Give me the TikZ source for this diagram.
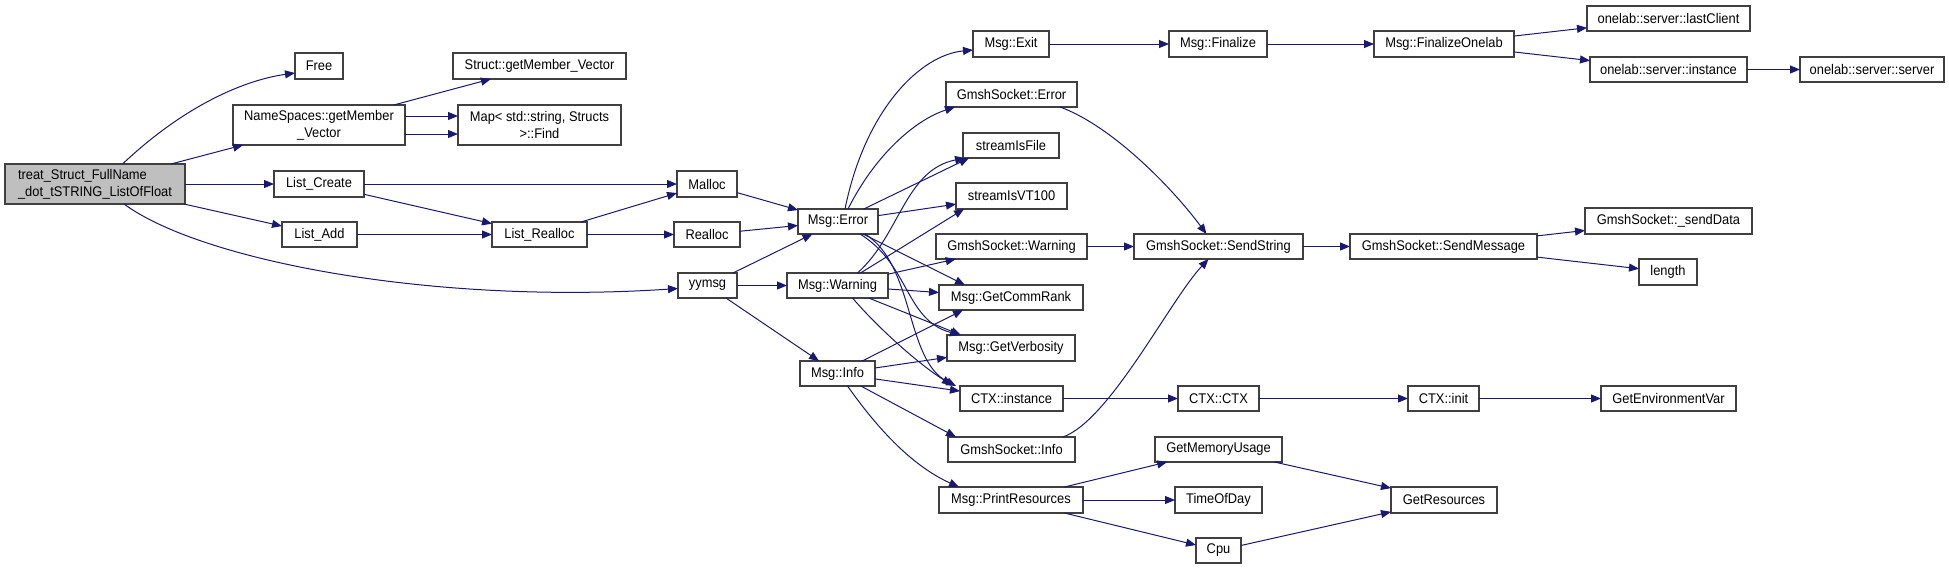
\documentclass[tikz,border=0pt]{standalone}
\usepackage{fontspec}
\setmainfont{Liberation Sans}[FakeStretch=0.92]
\usetikzlibrary{arrows.meta}
\definecolor{dxblue}{HTML}{191970}
\definecolor{dxborder}{HTML}{404040}
\definecolor{dxgray}{HTML}{BFBFBF}
\tikzset{
  gbox/.style={draw=dxborder, line width=0.8pt, fill=white, inner sep=0pt, outer sep=0pt,
    font=\fontsize{10.5}{12.5}\selectfont, text=black},
  call/.style={draw=dxblue, line width=0.75pt, -{Triangle[length=7.5pt,width=6pt]}},
}
\newcommand\gnode[7][]{%
  \node[gbox,#1,minimum width={(#5-#3)*0.75pt},minimum height={(#6-#4)*0.75pt}]
    (#2) at ({(#3+#5)/2},{(#4+#6)/2}) {#7};}
\begin{document}
\begin{tikzpicture}[x=0.75pt,y=-0.75pt]
\useasboundingbox (0,0) rectangle (1949,569);
% nodes
\gnode[fill=dxgray,align=left]{treat}{5}{164}{185}{204}{treat\_Struct\_FullName\\\_dot\_tSTRING\_ListOfFloat}
\gnode{Free}{295}{53}{343}{79}{Free}
\gnode[align=center]{NS}{233}{105}{405}{145}{NameSpaces::getMember\\\_Vector}
\gnode{Struct}{453}{53}{626}{79}{Struct::getMember\_Vector}
\gnode[align=center]{Map}{458}{105}{621}{145}{Map< std::string, Structs\\>::Find}
\gnode{LC}{274}{171}{364}{197}{List\_Create}
\gnode{LA}{282}{222}{357}{247}{List\_Add}
\gnode{LR}{492}{222}{587}{247}{List\_Realloc}
\gnode{Malloc}{677}{171}{737}{197}{Malloc}
\gnode{Realloc}{674}{222}{740}{247}{Realloc}
\gnode{yymsg}{678}{273}{737}{298}{yymsg}
\gnode{Err}{798}{209}{878}{234}{Msg::Error}
\gnode{Warn}{787}{273}{888}{298}{Msg::Warning}
\gnode{Info}{800}{361}{875}{386}{Msg::Info}
\gnode{Exit}{973}{31}{1049}{57}{Msg::Exit}
\gnode{GE}{946}{82}{1077}{107}{GmshSocket::Error}
\gnode{sIF}{963}{133}{1059}{158}{streamIsFile}
\gnode{VT}{956}{183}{1067}{209}{streamIsVT100}
\gnode{GW}{936}{234}{1087}{259}{GmshSocket::Warning}
\gnode{GCR}{939}{285}{1083}{310}{Msg::GetCommRank}
\gnode{GV}{947}{335}{1075}{361}{Msg::GetVerbosity}
\gnode{CTXi}{960}{386}{1063}{411}{CTX::instance}
\gnode{GSI}{948}{437}{1075}{462}{GmshSocket::Info}
\gnode{PR}{939}{487}{1083}{513}{Msg::PrintResources}
\gnode{Fin}{1169}{31}{1267}{57}{Msg::Finalize}
\gnode{SS}{1134}{234}{1303}{259}{GmshSocket::SendString}
\gnode{CTXc}{1178}{386}{1259}{411}{CTX::CTX}
\gnode{GMU}{1155}{437}{1282}{462}{GetMemoryUsage}
\gnode{TOD}{1175}{487}{1262}{513}{TimeOfDay}
\gnode{Cpu}{1196}{538}{1241}{563}{Cpu}
\gnode{FO}{1374}{31}{1514}{57}{Msg::FinalizeOnelab}
\gnode{SM}{1350}{234}{1537}{259}{GmshSocket::SendMessage}
\gnode{CTXinit}{1408}{386}{1479}{411}{CTX::init}
\gnode{GR}{1391}{487}{1497}{513}{GetResources}
\gnode{lastC}{1587}{6}{1750}{31}{onelab::server::lastClient}
\gnode{oinst}{1590}{57}{1747}{82}{onelab::server::instance}
\gnode{oserv}{1800}{57}{1944}{82}{onelab::server::server}
\gnode{sendD}{1585}{208}{1752}{234}{GmshSocket::\_sendData}
\gnode{len}{1639}{259}{1697}{285}{length}
\gnode{GEV}{1601}{386}{1736}{411}{GetEnvironmentVar}
% edges from treat
\draw[call] (treat.36) .. controls (185,105) and (245,80) .. ([shift={(0,7)}]Free.west);
\draw[call] (treat) -- (NS);
\draw[call] (NS) -- (Struct);
\draw[call] ([shift={(0,-9)}]NS.east) -- ([shift={(0,-9)}]Map.west);
\draw[call] ([shift={(0,9)}]NS.east) -- ([shift={(0,9)}]Map.west);
\draw[call] (treat) -- (LC);
\draw[call] (treat) -- (LA);
\draw[call] ([shift={(29,0)}]treat.south) .. controls (200,260) and (430,305) .. ([shift={(0,3)}]yymsg.west);
\draw[call] (LC) -- (Malloc);
\draw[call] (LC) -- (LR);
\draw[call] (LA) -- (LR);
\draw[call] (LR) -- (Malloc);
\draw[call] (LR) -- (Realloc);
\draw[call] (Malloc) -- (Err);
\draw[call] (Realloc) -- (Err);
\draw[call] (yymsg) -- (Err);
\draw[call] (yymsg) -- (Warn);
\draw[call] (yymsg) -- (Info);
% Msg::Error
\draw[call] ([shift={(7,0)}]Err.north) .. controls (865,110) and (920,55) .. ([shift={(0,6)}]Exit.west);
\draw[call] ([shift={(10,0)}]Err.north) .. controls (875,155) and (915,120) .. ([shift={(9,0)}]GE.south west);
\draw[call] (Err) -- ([shift={(6,0)}]sIF.south west);
\draw[call] (Err) -- (VT);
\draw[call] (Err) -- ([shift={(26,0)}]GCR.north west);
\draw[call] ([shift={(22,0)}]Err.south) .. controls (910,265) and (905,320) .. ([shift={(13,0)}]GV.north west);
\draw[call] ([shift={(27,0)}]Err.south) .. controls (915,265) and (905,360) .. ([shift={(-4,0)}]CTXi.north west);
% Msg::Warning
\draw[call] ([shift={(20,0)}]Warn.north) .. controls (900,235) and (905,170) .. ([shift={(2,0)}]sIF.south west);
\draw[call] ([shift={(23,0)}]Warn.north) -- ([shift={(8,0)}]VT.south west);
\draw[call] (Warn) -- (GW);
\draw[call] (Warn) -- (GCR);
\draw[call] (Warn) -- ([shift={(14,0)}]GV.north west);
\draw[call] ([shift={(15,0)}]Warn.south) .. controls (880,330) and (920,365) .. ([shift={(-8,-1)}]CTXi.north west);
% Msg::Info
\draw[call] (Info) -- ([shift={(24,0)}]GCR.south west);
\draw[call] (Info) -- (GV);
\draw[call] (Info) -- (CTXi);
\draw[call] (Info) -- ([shift={(8,0)}]GSI.north west);
\draw[call] ([shift={(10,0)}]Info.south) .. controls (875,425) and (910,465) .. ([shift={(20,0)}]PR.north west);
% right side
\draw[call] (Exit) -- (Fin);
\draw[call] (Fin) -- (FO);
\draw[call] (FO) -- (lastC);
\draw[call] (FO) -- (oinst);
\draw[call] (oinst) -- (oserv);
\draw[call] ([shift={(-17,0)}]GE.south east) .. controls (1110,125) and (1170,185) .. ([shift={(-12,0)}]SS.north);
\draw[call] (GW) -- (SS);
\draw[call] ([shift={(-12,0)}]GSI.north east) .. controls (1110,420) and (1170,300) .. ([shift={(-10,0)}]SS.south);
\draw[call] (SS) -- (SM);
\draw[call] (SM) -- (sendD);
\draw[call] (SM) -- (len);
\draw[call] (CTXi) -- (CTXc);
\draw[call] (CTXc) -- (CTXinit);
\draw[call] (CTXinit) -- (GEV);
\draw[call] (PR) -- (GMU);
\draw[call] (PR) -- (TOD);
\draw[call] (PR) -- (Cpu);
\draw[call] (GMU) -- (GR);
\draw[call] (Cpu) -- (GR);
\end{tikzpicture}
\end{document}
